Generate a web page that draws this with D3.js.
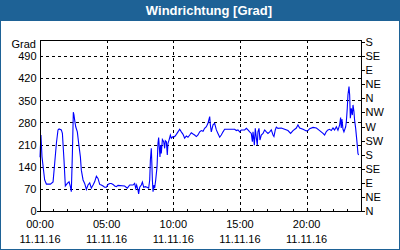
<!DOCTYPE html>
<html>
<head>
<meta charset="utf-8">
<script src="https://cdn.jsdelivr.net/npm/d3@7"></script>
<style>
  body { margin: 0; background: #fff; }
  text { font-family: "Liberation Sans", Arial, sans-serif; font-size: 11px; fill: #000; }
</style>
</head>
<body>
<div id="chart"></div>
<script>
// Time of reading in hours since 11.11.16 00:00
const hours = [0.00, 0.07, 0.15, 0.35, 0.48, 0.78, 0.98, 1.10, 1.23, 1.35, 1.43, 1.60, 1.68, 1.80, 1.90, 2.05,
  2.18, 2.28, 2.35, 2.43, 2.50, 2.55, 2.60, 2.68, 2.80, 2.90, 3.03, 3.10, 3.23, 3.35, 3.48, 3.60,
  3.73, 3.85, 3.98, 4.10, 4.23, 4.35, 4.48, 4.60, 4.73, 4.85, 4.98, 5.10, 5.23, 5.35, 5.48, 5.60,
  5.73, 5.85, 6.35, 6.55, 6.73, 6.98, 7.10, 7.18, 7.25, 7.35, 7.40, 7.48, 7.60, 7.68, 7.78, 7.90,
  8.03, 8.15, 8.23, 8.28, 8.35, 8.40, 8.43, 8.48, 8.55, 8.60, 8.68, 8.78, 8.85, 8.90, 9.00, 9.05,
  9.10, 9.18, 9.28, 9.35, 9.40, 9.48, 9.55, 9.60, 9.68, 9.78, 9.85, 9.98, 10.10, 10.23, 10.35, 10.48,
  10.60, 10.73, 10.85, 10.98, 11.10, 11.23, 11.35, 11.48, 11.60, 11.73, 11.85, 11.98, 12.10, 12.23, 12.35, 12.48,
  12.60, 12.68, 12.73, 12.78, 12.85, 12.98, 13.10, 13.23, 13.35, 13.48, 13.60, 13.73, 13.85, 14.10, 14.35, 14.60,
  14.73, 14.85, 14.98, 15.10, 15.35, 15.48, 15.60, 15.73, 15.85, 15.93, 15.98, 16.03, 16.08, 16.15, 16.23, 16.30,
  16.35, 16.43, 16.50, 16.60, 16.73, 16.85, 16.98, 17.10, 17.23, 17.35, 17.48, 17.55, 17.65, 17.73, 17.85, 18.10,
  18.35, 18.60, 18.80, 18.98, 19.23, 19.35, 19.48, 19.73, 19.98, 20.10, 20.23, 20.48, 20.73, 20.98, 21.23, 21.35,
  21.48, 21.60, 21.73, 21.85, 21.98, 22.10, 22.23, 22.35, 22.48, 22.55, 22.60, 22.65, 22.73, 22.80, 22.93, 22.98,
  23.05, 23.10, 23.18, 23.23, 23.28, 23.35, 23.43, 23.48, 23.55, 23.60, 23.68, 23.75, 23.80, 23.85, 23.90];

// Wind direction in degrees
const degrees = [170, 240, 171, 98, 85, 85, 92, 150, 214, 256, 259, 256, 245, 161, 79, 87,
  92, 77, 61, 182, 312, 303, 287, 266, 250, 214, 171, 129, 98, 87, 68, 82,
  89, 72, 82, 92, 110, 103, 84, 82, 79, 75, 75, 84, 87, 87, 84, 79,
  77, 81, 79, 72, 82, 82, 87, 72, 82, 66, 54, 75, 82, 91, 75, 77,
  75, 72, 98, 161, 198, 140, 98, 61, 82, 72, 98, 140, 214, 232, 171, 208,
  182, 226, 219, 198, 222, 219, 177, 214, 224, 240, 230, 235, 235, 242, 250, 258,
  250, 242, 230, 237, 233, 240, 247, 243, 240, 235, 240, 250, 254, 252, 261, 266,
  277, 290, 298, 272, 250, 272, 277, 256, 245, 233, 240, 250, 258, 258, 258, 258,
  254, 256, 250, 256, 256, 261, 256, 250, 245, 219, 250, 230, 208, 261, 230, 208,
  250, 261, 224, 240, 245, 256, 250, 245, 250, 256, 240, 235, 256, 265, 261, 262,
  258, 254, 245, 254, 262, 272, 262, 258, 253, 254, 260, 264, 262, 254, 245, 240,
  251, 256, 258, 254, 262, 256, 266, 255, 272, 295, 262, 290, 258, 250, 266, 282,
  324, 366, 393, 366, 293, 324, 303, 335, 314, 287, 261, 230, 208, 182, 177];

const degreeTicks = [0, 70, 140, 210, 280, 350, 420, 490];
const compassLabels = ["N", "NE", "E", "SE", "S", "SW", "W", "NW", "N", "NE", "E", "SE", "S"];
const labelHours = [0, 5, 10, 15, 20];
const dateLabel = "11.11.16";
const title = "Windrichtung [Grad]";
const unit = "Grad";

const W = 400, H = 250;
const plot = { left: 40, right: 361, top: 40, bottom: 211 };
const blue = "#1e6296";

const svg = d3.select("#chart").append("svg")
    .attr("width", W)
    .attr("height", H);

// frame and title bar
svg.append("rect")
    .attr("x", 0.5).attr("y", 0.5)
    .attr("width", W - 1).attr("height", H - 1)
    .attr("fill", "#fff")
    .attr("stroke", blue);

svg.append("rect")
    .attr("x", 0).attr("y", 0)
    .attr("width", W).attr("height", 21)
    .attr("fill", blue);

svg.append("text")
    .attr("x", W / 2 + 9)
    .attr("y", 15)
    .attr("text-anchor", "middle")
    .style("font-weight", "bold")
    .style("font-size", "13px")
    .style("fill", "#fff")
    .text(title);

// scales
const x = d3.scaleLinear().domain([0, 24.08]).range([plot.left, plot.right]);
const y = d3.scaleLinear().domain([0, 540]).range([plot.bottom, plot.top]);

// dashed grid
const grid = svg.append("g")
    .attr("stroke", "#000")
    .attr("stroke-dasharray", "3,3")
    .attr("shape-rendering", "crispEdges");

grid.selectAll(".hg")
    .data(degreeTicks.slice(1))
    .enter().append("line")
    .attr("x1", plot.left).attr("x2", plot.right)
    .attr("y1", d => Math.round(y(d)) + 0.5)
    .attr("y2", d => Math.round(y(d)) + 0.5);

grid.selectAll(".vg")
    .data(labelHours.slice(1))
    .enter().append("line")
    .attr("y1", plot.top).attr("y2", plot.bottom)
    .attr("x1", d => Math.round(x(d)) + 0.5)
    .attr("x2", d => Math.round(x(d)) + 0.5);

// line
const line = d3.line()
    .x((d, i) => x(hours[i]))
    .y(d => y(d));

svg.append("path")
    .datum(degrees)
    .attr("fill", "none")
    .attr("stroke", "#0000ff")
    .attr("stroke-width", 1.1)
    .attr("d", line);

// plot frame
svg.append("rect")
    .attr("x", plot.left + 0.5).attr("y", plot.top + 0.5)
    .attr("width", plot.right - plot.left).attr("height", plot.bottom - plot.top)
    .attr("fill", "none")
    .attr("stroke", "#000")
    .attr("shape-rendering", "crispEdges");

// left axis
const yAxis = svg.append("g")
    .attr("transform", `translate(${plot.left + 0.5},0)`)
    .call(d3.axisLeft(y).tickValues(degreeTicks).tickSize(0).tickPadding(4));
yAxis.select(".domain").remove();
yAxis.attr("font-family", null).attr("font-size", null);
yAxis.selectAll("text").attr("dy", "0.36em");

svg.append("text")
    .attr("x", plot.left - 4)
    .attr("y", 48)
    .attr("text-anchor", "end")
    .text(unit);

// right axis
const yRight = d3.scaleLinear().domain([0, compassLabels.length - 1]).range([plot.bottom, plot.top + 2]);
const rAxis = svg.append("g")
    .attr("transform", `translate(${plot.right + 0.5},0)`)
    .call(d3.axisRight(yRight)
        .tickValues(d3.range(compassLabels.length))
        .tickFormat(i => compassLabels[i])
        .tickSize(3).tickPadding(1));
rAxis.select(".domain").remove();
rAxis.attr("font-family", null).attr("font-size", null);
rAxis.selectAll("line").attr("shape-rendering", "crispEdges");

// bottom axis: hourly minor ticks pointing inward
const xAxis = svg.append("g")
    .attr("transform", `translate(0,${plot.bottom + 0.5})`)
    .call(d3.axisBottom(x).tickValues(d3.range(0, 24)).tickSize(-3).tickFormat(""));
xAxis.select(".domain").remove();
xAxis.selectAll("line").attr("shape-rendering", "crispEdges");

// small outward tick at the origin
svg.append("line")
    .attr("x1", plot.left - 3).attr("x2", plot.left)
    .attr("y1", plot.bottom + 0.5).attr("y2", plot.bottom + 0.5)
    .attr("stroke", "#000")
    .attr("shape-rendering", "crispEdges");

const xl = svg.append("g");
xl.selectAll(".t1")
    .data(labelHours)
    .enter().append("text")
    .attr("x", d => x(d))
    .attr("y", 228)
    .attr("text-anchor", "middle")
    .text(d => d3.format("02")(d) + ":00");
xl.selectAll(".t2")
    .data(labelHours)
    .enter().append("text")
    .attr("x", d => x(d))
    .attr("y", 243)
    .attr("text-anchor", "middle")
    .text(dateLabel);
</script>
</body>
</html>
